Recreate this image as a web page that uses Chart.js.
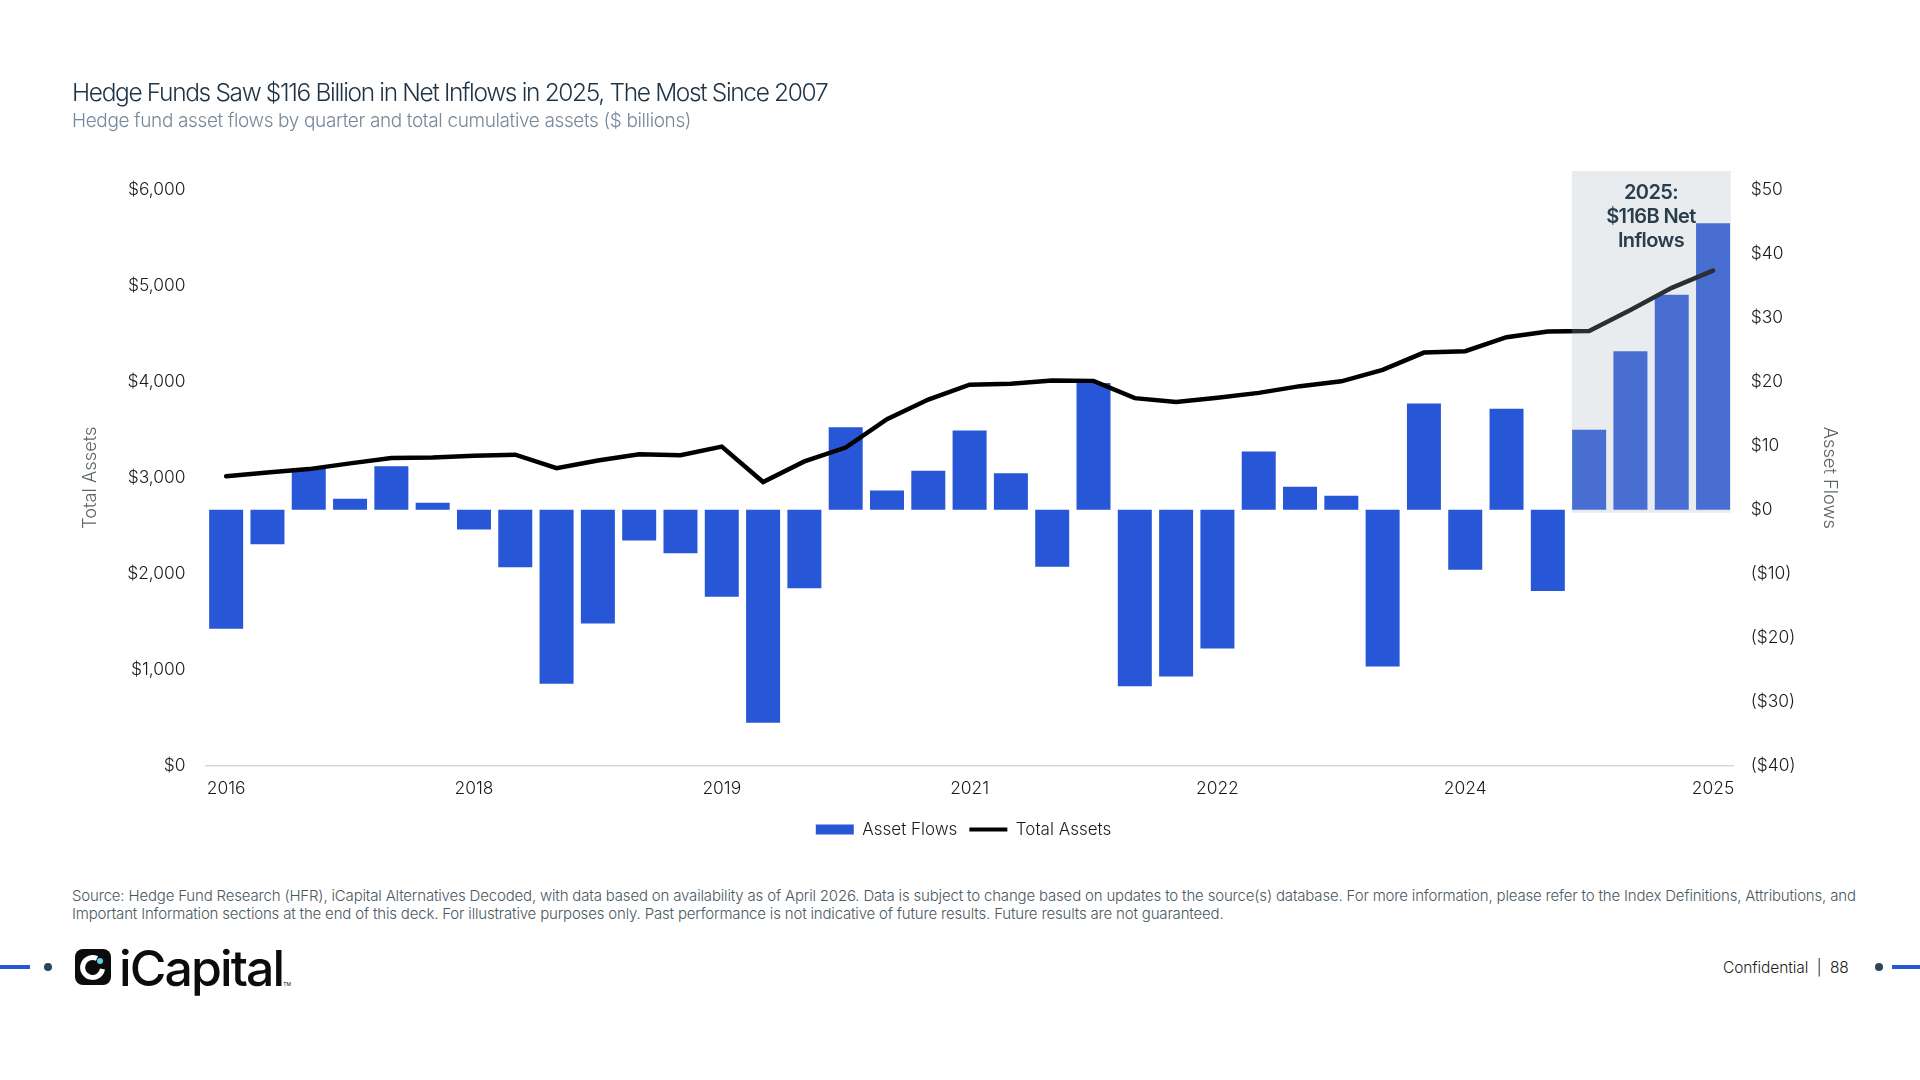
<!DOCTYPE html>
<html>
<head>
<meta charset="utf-8">
<title>Hedge Fund Asset Flows</title>
<script src="https://cdn.jsdelivr.net/npm/chart.js@4"></script>
<style>
    html, body { margin: 0; padding: 0; background: #fff; }
    body { position: relative; width: 1920px; height: 1080px; overflow: hidden; font-family: Inter, sans-serif; }
    #chart-box { position: absolute; left: 0; top: 0; width: 1920px; height: 848px; }
    .txt { position: absolute; white-space: nowrap; }
    #title { left: 72px; top: 77px; font-size: 24.5px; font-weight: 300; color: #1f3344; letter-spacing: -1.35px; }
    #subtitle { left: 72px; top: 109px; font-size: 19px; font-weight: 300; color: #76899a; letter-spacing: -0.37px; }
    #callout { left: 1571px; top: 180px; width: 160px; text-align: center; white-space: normal; font-size: 20px; line-height: 24px; font-weight: 600; color: #2a3d4d; letter-spacing: -0.6px; }
    #source { left: 72px; top: 887px; font-size: 15px; line-height: 18px; font-weight: 300; color: #4a5862; letter-spacing: -0.175px; }
    #brand { left: 119px; top: 938px; font-size: 50px; font-weight: 500; color: #0c0c0c; letter-spacing: -1.9px; }
    #brand sup { font-size: 5px; font-weight: 400; letter-spacing: 0; vertical-align: baseline; }
    #page { left: 1723px; top: 958px; font-size: 15.5px; font-weight: 300; color: #1d1d1d; letter-spacing: -0.1px; }
    .dash { position: absolute; top: 965px; width: 30px; height: 4px; background: #2756d6; }
    .dot { position: absolute; top: 963px; width: 8px; height: 8px; border-radius: 50%; background: #2c4558; }
    #logo-mark { position: absolute; left: 75px; top: 949px; }
</style>
</head>
<body>
<div id="chart-box"><canvas id="flows-chart"></canvas></div>
<div class="txt" id="title">Hedge Funds Saw $116 Billion in Net Inflows in 2025, The Most Since 2007</div>
<div class="txt" id="subtitle">Hedge fund asset flows by quarter and total cumulative assets ($ billions)</div>
<div class="txt" id="callout">2025:<br>$116B Net<br>Inflows</div>
<div class="txt" id="source">Source: Hedge Fund Research (HFR), iCapital Alternatives Decoded, with data based on availability as of April 2026. Data is subject to change based on updates to the source(s) database. For more information, please refer to the Index Definitions, Attributions, and<br>Important Information sections at the end of this deck. For illustrative purposes only. Past performance is not indicative of future results. Future results are not guaranteed.</div>
<div class="dash" style="left:0"></div>
<div class="dot" style="left:44px"></div>
<svg id="logo-mark" width="36" height="36" viewBox="0 0 36 36">
    <rect width="36" height="36" rx="8" fill="#0c0c0c"/>
    <path d="M22 9.5 A10 10 0 1 0 27.5 20" fill="none" stroke="#fff" stroke-width="5"/>
    <circle cx="25" cy="12" r="3" fill="#5fd0e0"/>
</svg>
<div class="txt" id="brand">iCapital<sup>TM</sup></div>
<div class="txt" id="page">Confidential&nbsp; |&nbsp; 88</div>
<div class="dot" style="left:1875px"></div>
<div class="dash" style="left:1892px; width:28px"></div>

<script>
// Quarterly, Q4 2016 to Q4 2025
const categories = [
    'Q4 2016',
    'Q1 2017', 'Q2 2017', 'Q3 2017', 'Q4 2017',
    'Q1 2018', 'Q2 2018', 'Q3 2018', 'Q4 2018',
    'Q1 2019', 'Q2 2019', 'Q3 2019', 'Q4 2019',
    'Q1 2020', 'Q2 2020', 'Q3 2020', 'Q4 2020',
    'Q1 2021', 'Q2 2021', 'Q3 2021', 'Q4 2021',
    'Q1 2022', 'Q2 2022', 'Q3 2022', 'Q4 2022',
    'Q1 2023', 'Q2 2023', 'Q3 2023', 'Q4 2023',
    'Q1 2024', 'Q2 2024', 'Q3 2024', 'Q4 2024',
    'Q1 2025', 'Q2 2025', 'Q3 2025', 'Q4 2025'
];
const assetFlows = [
    -18.6, -5.4, 6.5, 1.7, 6.8, 1.1, -3.1, -9.0, -27.2, -17.8,
    -4.8, -6.8, -13.6, -33.3, -12.3, 12.9, 3.0, 6.1, 12.4, 5.7,
    -8.9, 19.8, -27.6, -26.1, -21.7, 9.1, 3.6, 2.2, -24.5, 16.6,
    -9.4, 15.8, -12.7, 12.5, 24.8, 33.6, 44.8
];
const totalAssets = [
    3015, 3055, 3090, 3150, 3205, 3210, 3230, 3240, 3100, 3180,
    3245, 3235, 3325, 2955, 3170, 3315, 3610, 3815, 3970, 3980,
    4015, 4010, 3830, 3790, 3835, 3885, 3955, 4005, 4125, 4305,
    4320, 4465, 4525, 4530, 4750, 4980, 5160
];
const assetTicks = ['$0', '$1,000', '$2,000', '$3,000', '$4,000', '$5,000', '$6,000'];
const flowTicks = ['($40)', '($30)', '($20)', '($10)', '$0', '$10', '$20', '$30', '$40', '$50'];
const highlightFrom = 'Q1 2025';

const BAR_BLUE = '#2756d6';
const TICK_FONT = { family: 'Inter', size: 17.4, weight: '300' };
const AXIS_TITLE_FONT = { family: 'Inter', size: 18.3, weight: '300' };

// Grey band over the 2025 bars, drawn on top so that the bars wash out like the original
const highlightBand = {
    id: 'highlightBand',
    afterLayout(chart) {
        // legend sits a little right of the canvas centre
        chart.legend.left += 3.5;
        chart.legend.right += 3.5;
    },
    afterDatasetsDraw(chart) {
        const { ctx, scales } = chart;
        const step = scales.x.getPixelForValue(1) - scales.x.getPixelForValue(0);
        const left = scales.x.getPixelForValue(categories.indexOf(highlightFrom)) - step * 0.42;
        const right = scales.x.getPixelForValue(categories.length - 1) + step * 0.43;
        const top = chart.chartArea.top - 19;
        const bottom = scales.yFlows.getPixelForValue(0) + 3;
        ctx.save();
        ctx.fillStyle = 'rgba(165, 180, 192, 0.26)';
        ctx.fillRect(left, top, right - left, bottom - top);
        ctx.restore();
    }
};

new Chart(document.getElementById('flows-chart'), {
    data: {
        labels: categories,
        datasets: [
            {
                type: 'line',
                label: 'Total Assets',
                data: totalAssets,
                yAxisID: 'yAssets',
                borderColor: '#000',
                borderWidth: 4.5,
                borderCapStyle: 'round',
                pointRadius: 0,
                tension: 0,
                order: 1
            },
            {
                type: 'bar',
                label: 'Asset Flows',
                data: assetFlows,
                yAxisID: 'yFlows',
                backgroundColor: BAR_BLUE,
                categoryPercentage: 1,
                barPercentage: 0.823,
                order: 2
            }
        ]
    },
    plugins: [highlightBand],
    options: {
        responsive: true,
        maintainAspectRatio: false,
        animation: false,
        layout: { padding: { top: 190, left: 80, right: 80, bottom: 0 } },
        plugins: {
            tooltip: { enabled: false },
            legend: {
                position: 'bottom',
                reverse: true,
                labels: {
                    font: { family: 'Inter', size: 17, weight: '300' },
                    color: '#1a1a1a',
                    usePointStyle: true,
                    pointStyleWidth: 38,
                    boxHeight: 10,
                    padding: 12,
                    generateLabels(chart) {
                        return chart.data.datasets.map((ds, i) => ({
                            text: ds.label,
                            datasetIndex: i,
                            fontColor: '#1a1a1a',
                            fillStyle: ds.type === 'bar' ? BAR_BLUE : '#000',
                            strokeStyle: ds.type === 'bar' ? BAR_BLUE : '#000',
                            lineWidth: ds.type === 'bar' ? 0 : 4,
                            pointStyle: ds.type === 'bar' ? 'rect' : 'line'
                        }));
                    }
                }
            }
        },
        scales: {
            x: {
                grid: { display: false, drawTicks: false },
                border: { color: '#d4d8dc', width: 1.5 },
                afterFit(scale) { scale.height = 43.5; },
                ticks: {
                    autoSkip: false,
                    maxRotation: 0,
                    padding: 13,
                    color: '#1a1a1a',
                    font: TICK_FONT,
                    callback(value, index) {
                        return index % 6 === 0 ? this.getLabelForValue(value).slice(3) : '';
                    }
                }
            },
            yAssets: {
                position: 'left',
                min: 0,
                max: 6000,
                afterFit(scale) { scale.width = 125.5; },
                grid: { display: false, drawTicks: false },
                border: { display: false },
                title: { display: true, text: 'Total Assets', color: '#5d6468', font: AXIS_TITLE_FONT, padding: 0 },
                ticks: {
                    stepSize: 1000,
                    padding: 20,
                    color: '#1a1a1a',
                    font: TICK_FONT,
                    callback(value) { return assetTicks[value / 1000]; }
                }
            },
            yFlows: {
                position: 'right',
                min: -40,
                max: 50,
                afterFit(scale) { scale.width = 106.3; },
                grid: { display: false, drawTicks: false },
                border: { display: false },
                title: { display: true, text: 'Asset Flows', color: '#5d6468', font: AXIS_TITLE_FONT, padding: 0 },
                ticks: {
                    stepSize: 10,
                    padding: 17,
                    color: '#1a1a1a',
                    font: TICK_FONT,
                    callback(value) { return flowTicks[(value + 40) / 10]; }
                }
            }
        }
    }
});
</script>
</body>
</html>
